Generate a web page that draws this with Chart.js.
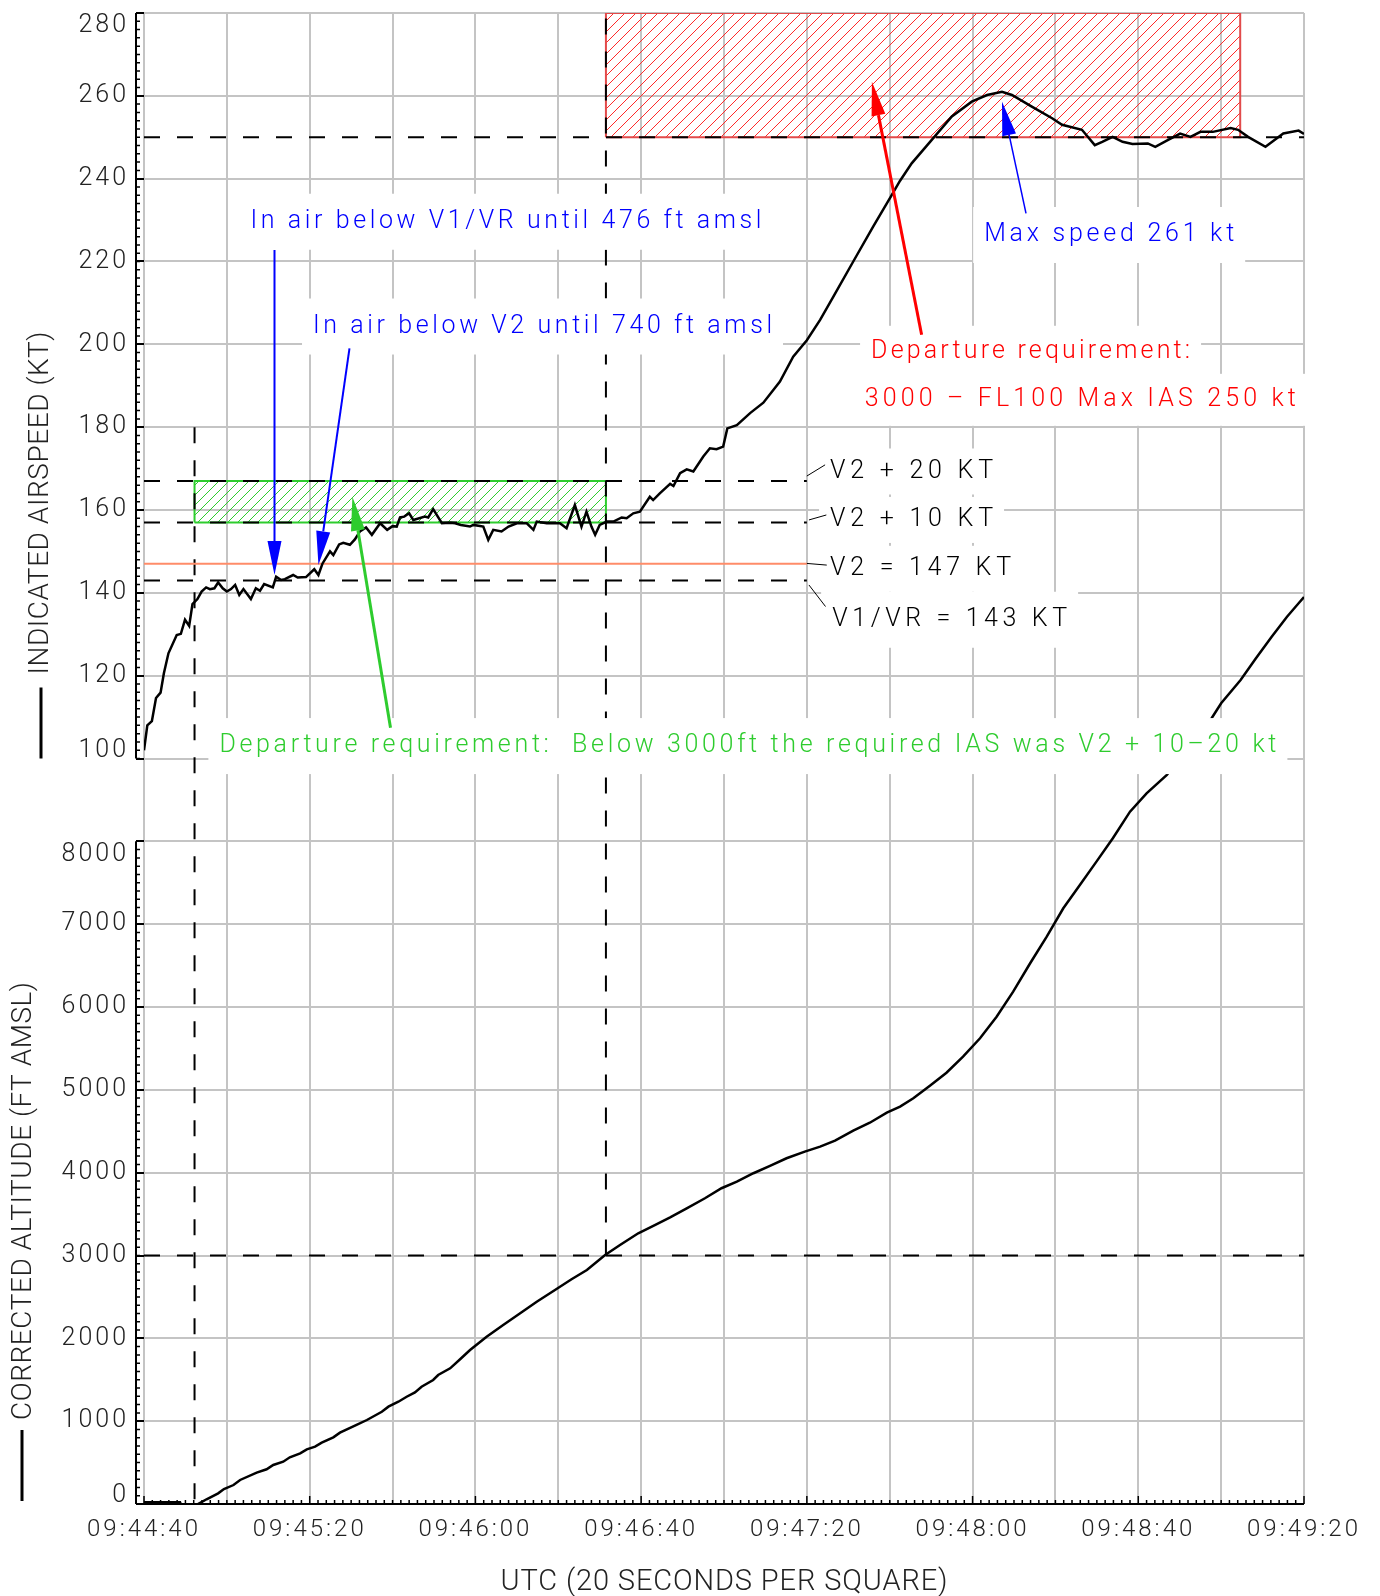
<!DOCTYPE html>
<html>
<head>
<meta charset="utf-8">
<script src="https://cdn.jsdelivr.net/npm/chart.js@4.4.1/dist/chart.umd.min.js"></script>
<style>
  html, body { margin: 0; padding: 0; background: #fff; }
</style>
</head>
<body>
<canvas id="grafica" width="1380" height="1596"></canvas>
<script>
// Datos (segundos desde 09:44:40 UTC)
const tiemposVelocidad = [0,0.8,1.9,2.9,4.0,4.8,5.9,7.9,8.9,9.9,10.9,11.7,12.9,13.9,15.0,15.9,17.0,17.9,19.0,20.0,
  21.0,22.0,23.0,24.0,25.8,27.0,28.0,29.0,31.1,31.9,33.1,34.0,36.0,37.1,39.1,41.1,42.1,43.1,44.9,45.7,
  47.1,48.1,49.7,50.9,52.1,53.6,55.0,57.0,58.7,60.0,61.0,61.8,62.8,64.0,65.0,67.8,68.6,69.8,71.9,73.9,
  75.1,76.5,78.7,79.5,81.9,83.1,84.3,86.3,88.0,90.0,92.4,94.0,94.8,97.2,100.4,102.0,104.0,105.6,106.8,108.0,
  108.9,110.0,111.7,113.3,115.3,116.5,118.1,119.7,122.1,122.9,124.5,127.0,127.8,129.4,131.0,132.6,135.0,136.6,138.2,139.8,
  140.8,143.1,146.3,149.5,153.5,156.7,160.0,163.2,166.4,171.2,176.0,180.3,182.5,185.3,190.1,195.0,199.8,203.5,207.1,209.5,
  214.3,219.2,221.6,226.4,229.5,231.3,233.8,236.2,238.6,242.3,244.1,247.1,250.1,252.6,255.0,258.0,262.3,264.1,266.5,270.7,
  275.0,278.7,280.0];
const velocidadKt = [102,108,109,114.6,115.9,120.6,125.4,129.8,130.1,133.5,132,137.3,138.5,140.3,141.3,140.9,141.1,142.5,141.1,140.3,
  140.9,141.9,139.5,140.9,138.5,141.1,140.5,142.1,141.3,143.9,143.1,143.3,144.3,143.7,143.8,145.7,144.3,147.1,150,149.1,
  151.7,152.1,151.6,152.9,154.8,155.8,154,156.8,155.2,156.1,156,158.2,158.4,159.2,157.6,158.4,158.2,160.2,156.8,156.9,
  156.8,156.4,156,156.4,156,152.8,155.2,154.8,156,156.8,156.8,155.2,157.2,156.8,156.8,155.6,161.2,156,159.6,156,
  154,156.4,157.2,157.2,158.2,158,159.2,159.6,163.2,162.4,164,166.3,165.8,168.9,169.8,169.3,172.9,174.9,174.7,175.3,
  179.7,180.5,183.4,185.9,191,197,201,205.9,211.5,220,228.4,235.7,239.5,243.7,249.3,255,258.6,260.2,261,260.2,
  257.4,254.6,253,251.8,248.1,248.9,250.1,248.9,248.4,248.5,247.7,249.3,250.9,250.1,251.3,251.3,252.2,251.8,250.1,247.7,
  250.9,251.6,250.8];

const tiemposAltitud = [0,8.7,9.6,12.2,13.1,15.1,17.9,19.3,21.6,23.2,27.2,29.6,31.2,33.6,35.2,37.7,39.3,41.3,42.9,45.7,
  47.3,51.3,53.8,57.4,59.0,61.4,63.4,65.4,67.0,69.8,71.0,73.9,76.3,78.7,82.7,86.7,90.8,94.8,99.2,103.2,
  106.9,111.3,114.9,119.3,123.3,127.0,131.0,135.4,139.4,143.1,147.1,151.1,155.1,159.5,163.2,166.8,171.2,175.2,179.3,182.5,
  185.7,189.7,193.7,197.7,201.8,205.8,209.8,213.9,217.9,221.9,225.9,229.9,233.9,238.0,242.0,246.9,257.7,260.0,264.7,268.4,
  272.2,275.9,278.7,280.0];
const altitudFt = [20,20,-90,-90,0,57,129,181,229,290,378,419,471,511,564,612,660,692,740,805,
  861,954,1014,1114,1175,1235,1295,1348,1416,1497,1557,1638,1747,1859,2020,2161,2302,2442,2584,2713,
  2825,3006,3127,3268,3368,3461,3570,3691,3812,3891,3993,4081,4174,4254,4314,4386,4507,4603,4724,4797,
  4898,5050,5207,5400,5622,5883,6185,6528,6849,7192,7473,7755,8040,8358,8580,8801,9486,9667,9948,10210,
  10471,10712,10874,10950];

// Velocidades y altitudes de referencia
const V1VR = 143;
const V2 = 147;
const V2mas10 = 157;
const V2mas20 = 167;
const iasMaxima = 250;
const altitudLimite = 3000;
const tDespegue = 12.2;
const t3000 = 111.5;
const tFL100 = 264.6;
const tFinLineasV = 160;

// Ejes: velocidad y altitud comparten la misma rejilla
const VEL_MIN = -80, VEL_MAX = 280, ALT_MAX = 18000;
const T_MAX = 280;
const horaInicio = 9 * 3600 + 44 * 60 + 40;

const FUENTE = "Roboto, 'DejaVu Sans', sans-serif";
const GRIS = '#c4c4c4';
const VERDE = '#2ecc2e';

function etiquetaY(v) {
  if (v >= 100) return String(v);
  if (v <= 80) return String((v - VEL_MIN) * 50);
  return '';
}

function etiquetaHora(s) {
  if (s % 40 !== 0) return '';
  const tot = horaInicio + s;
  const partes = [Math.floor(tot / 3600), Math.floor((tot % 3600) / 60), tot % 60];
  return partes.map(n => String(n).padStart(2, '0')).join(':');
}

const puntos = (xs, ys) => xs.map((x, i) => ({ x, y: ys[i] }));

function lineaRef(datos, color, dash, eje = 'y') {
  return {
    data: datos, borderColor: color, borderWidth: 2, borderDash: dash,
    pointRadius: 0, fill: false, yAxisID: eje, order: 3
  };
}

function rayado(color, paso) {
  const c = document.createElement('canvas');
  c.width = paso; c.height = paso;
  const g = c.getContext('2d');
  g.strokeStyle = color; g.lineWidth = 1;
  g.beginPath();
  for (const k of [-paso, 0, paso]) { g.moveTo(k, paso); g.lineTo(k + paso, 0); }
  g.stroke();
  return g.createPattern(c, 'repeat');
}

function caja(t0, t1, v0, v1, borde, patron) {
  return {
    data: [{ x: t0, y: v0 }, { x: t1, y: v0 }, { x: t1, y: v1 }, { x: t0, y: v1 }, { x: t0, y: v0 }],
    borderColor: borde, borderWidth: 2, backgroundColor: patron, fill: 'shape',
    pointRadius: 0, yAxisID: 'y', order: 5
  };
}

// Textos de la grafica (t, v: borde izquierdo y centro vertical)
const etiquetas = [
  { texto: 'In air below V1/VR until 476 ft amsl', t: 25.7, v: 229.6, ancho: 511, color: '#0000ff', medio: 28 },
  { texto: 'In air below V2 until 740 ft amsl', t: 40.8, v: 204.3, ancho: 459, color: '#0000ff', medio: 28 },
  { texto: 'Departure requirement:  Below 3000ft the required IAS was V2 + 10\u201320 kt', t: 18.2, v: 103, ancho: 1057, color: VERDE, medio: 28 },
  { texto: 'Departure requirement:', t: 175.5, v: 198.2, ancho: 319, color: '#ff0000', medio: 26 },
  { texto: '3000 \u2013 FL100 Max IAS 250 kt', t: 174, v: 186.6, ancho: 431, color: '#ff0000', medio: 26 },
  { texto: 'Max speed 261 kt', t: 202.8, v: 226.4, ancho: 250, color: '#0000ff', medio: 28 },
  { texto: 'V2 + 20 KT', t: 165.6, v: 169.3, ancho: 163, color: '#000', medio: 23 },
  { texto: 'V2 + 10 KT', t: 165.6, v: 157.6, ancho: 163, color: '#000', medio: 23 },
  { texto: 'V2 = 147 KT', t: 165.6, v: 145.8, ancho: 181, color: '#000', medio: 23 },
  { texto: 'V1/VR = 143 KT', t: 166.1, v: 133.5, ancho: 235, color: '#000', medio: 28 }
];

const flechas = [
  { desde: [31.5, 222.8], hasta: [31.5, 144.3], color: '#0000ff', grosor: 2 },
  { desde: [49.6, 199.0], hasta: [42.1, 146.7], color: '#0000ff', grosor: 2 },
  { desde: [59.5, 107.4], hasta: [50.3, 163.2], color: VERDE, grosor: 3 },
  { desde: [187.7, 202.3], hasta: [175.7, 263.4], color: '#ff0000', grosor: 3 },
  { desde: [212.9, 231.6], hasta: [207.1, 258.6], color: '#0000ff', grosor: 1.5 }
];

const guias = [
  [[160.0, 168.2], [164.4, 170.9]],
  [[160.5, 157.6], [164.7, 158.8]],
  [[160.0, 147.1], [164.8, 146.7]],
  [[160.5, 141.9], [164.5, 136.7]]
];

// desplazamiento vertical de los rotulos en los extremos de cada eje (estilo IDL)
const ajusteRotuloY = { 280: 13, 100: -8, 80: 13, [-80]: -8 };

function textoAjustado(ctx, texto, x, y, ancho) {
  ctx.letterSpacing = '0px';
  const w = ctx.measureText(texto).width;
  ctx.letterSpacing = ((ancho - w) / Math.max(texto.length - 1, 1)) + 'px';
  ctx.fillText(texto, x, y);
}

function flecha(ctx, x1, y1, x2, y2, color, grosor) {
  const ang = Math.atan2(y2 - y1, x2 - x1);
  const largo = 34, medio = 7;
  const bx = x2 - largo * Math.cos(ang), by = y2 - largo * Math.sin(ang);
  ctx.strokeStyle = color; ctx.fillStyle = color; ctx.lineWidth = grosor;
  ctx.beginPath(); ctx.moveTo(x1, y1); ctx.lineTo(bx, by); ctx.stroke();
  ctx.beginPath();
  ctx.moveTo(x2, y2);
  ctx.lineTo(bx + medio * Math.sin(ang), by - medio * Math.cos(ang));
  ctx.lineTo(bx - medio * Math.sin(ang), by + medio * Math.cos(ang));
  ctx.closePath(); ctx.fill();
}

// Ejes tipo IDL, rotulos con fondo blanco, flechas y titulos
const anotaciones = {
  id: 'anotaciones',
  beforeDraw(chart) { chart.ctx.letterSpacing = '3px'; },
  afterDatasetsDraw(chart) {
    const { ctx, chartArea: area, scales: { x, y } } = chart;
    const px = t => x.getPixelForValue(t);
    const py = v => y.getPixelForValue(v);
    ctx.save();

    // lineas de eje y marcas menores
    const xEje = area.left - 8;
    ctx.strokeStyle = '#000';
    ctx.lineWidth = 2;
    ctx.beginPath();
    ctx.moveTo(xEje, py(VEL_MAX)); ctx.lineTo(xEje, py(100));
    ctx.moveTo(xEje, py(80)); ctx.lineTo(xEje, py(VEL_MIN));
    ctx.moveTo(xEje, area.bottom); ctx.lineTo(area.right, area.bottom);
    ctx.stroke();
    ctx.lineWidth = 1.5;
    ctx.beginPath();
    for (let v = VEL_MIN; v <= VEL_MAX; v += 2) {
      if (v > 80 && v < 100) continue;
      ctx.moveTo(xEje, py(v)); ctx.lineTo(xEje + 4, py(v));
    }
    for (let t = 0; t <= T_MAX; t += 2) {
      const l = t % 40 === 0 ? 8 : 4;
      ctx.moveTo(px(t), area.bottom); ctx.lineTo(px(t), area.bottom - l);
    }
    ctx.stroke();

    // rotulos del eje Y (velocidad arriba, altitud abajo)
    ctx.font = `300 25px ${FUENTE}`;
    ctx.textBaseline = 'middle';
    ctx.textAlign = 'right';
    ctx.fillStyle = '#222';
    ctx.letterSpacing = '3px';
    y.ticks.forEach(tk => {
      const txt = etiquetaY(tk.value);
      if (!txt) return;
      ctx.fillText(txt, xEje - 7, py(tk.value) + (ajusteRotuloY[tk.value] || 0));
    });

    // cajas blancas y textos
    ctx.textAlign = 'left';
    etiquetas.forEach(e => {
      const x0 = px(e.t), y0 = py(e.v);
      ctx.fillStyle = '#fff';
      ctx.fillRect(x0 - 11, y0 - e.medio, e.ancho + 22, e.medio * 2);
    });
    etiquetas.forEach(e => {
      ctx.fillStyle = e.color;
      textoAjustado(ctx, e.texto, px(e.t), py(e.v), e.ancho);
    });

    // guias de las lineas V
    ctx.strokeStyle = '#000';
    ctx.lineWidth = 1;
    ctx.beginPath();
    guias.forEach(([a, b]) => { ctx.moveTo(px(a[0]), py(a[1])); ctx.lineTo(px(b[0]), py(b[1])); });
    ctx.stroke();

    flechas.forEach(f => flecha(ctx, px(f.desde[0]), py(f.desde[1]), px(f.hasta[0]), py(f.hasta[1]), f.color, f.grosor));

    // titulos de ejes
    ctx.fillStyle = '#222';
    ctx.strokeStyle = '#000';
    ctx.lineWidth = 3;
    const baseVel = py(100);
    ctx.beginPath(); ctx.moveTo(41, baseVel - 71); ctx.lineTo(41, baseVel); ctx.stroke();
    ctx.save();
    ctx.translate(41, baseVel - 84);
    ctx.rotate(-Math.PI / 2);
    ctx.font = `300 28px ${FUENTE}`;
    textoAjustado(ctx, 'INDICATED AIRSPEED (KT)', 0, 0, 343);
    ctx.restore();

    const baseAlt = py(VEL_MIN) - 3;
    ctx.beginPath(); ctx.moveTo(22, baseAlt - 71); ctx.lineTo(22, baseAlt); ctx.stroke();
    ctx.save();
    ctx.translate(24, baseAlt - 81);
    ctx.rotate(-Math.PI / 2);
    ctx.font = `300 28px ${FUENTE}`;
    textoAjustado(ctx, 'CORRECTED ALTITUDE (FT AMSL)', 0, 0, 438);
    ctx.restore();

    ctx.font = `300 29px ${FUENTE}`;
    const anchoX = 447;
    textoAjustado(ctx, 'UTC (20 SECONDS PER SQUARE)', (area.left + area.right) / 2 - anchoX / 2, 1583, anchoX);

    ctx.restore();
  },
  afterDraw(chart) { chart.ctx.letterSpacing = '0px'; }
};

const patronRojo = rayado('#ff2a2a', 11);
const patronVerde = rayado(VERDE, 10);

const datasets = [
  { data: puntos(tiemposVelocidad, velocidadKt), borderColor: '#000', borderWidth: 2.5, pointRadius: 0, yAxisID: 'y', order: 0 },
  { data: puntos(tiemposAltitud, altitudFt), borderColor: '#000', borderWidth: 2.5, pointRadius: 0, yAxisID: 'alt', order: 1 },
  caja(t3000, tFL100, iasMaxima, VEL_MAX, '#e24a4a', patronRojo),
  caja(tDespegue, t3000, V2mas10, V2mas20, VERDE, patronVerde),
  lineaRef([{ x: 0, y: iasMaxima }, { x: T_MAX, y: iasMaxima }], '#000', [16, 17]),
  lineaRef([{ x: 0, y: V2mas20 }, { x: tFinLineasV, y: V2mas20 }], '#000', [16, 17]),
  lineaRef([{ x: 0, y: V2mas10 }, { x: tFinLineasV, y: V2mas10 }], '#000', [16, 17]),
  lineaRef([{ x: 0, y: V2 }, { x: tFinLineasV, y: V2 }], '#ff8c69', []),
  lineaRef([{ x: 0, y: V1VR }, { x: tFinLineasV, y: V1VR }], '#000', [16, 17]),
  lineaRef([{ x: 0, y: altitudLimite }, { x: T_MAX, y: altitudLimite }], '#000', [16, 17], 'alt'),
  lineaRef([{ x: tDespegue, y: 180 }, { x: tDespegue, y: VEL_MIN }], '#000', [16, 17]),
  lineaRef([{ x: t3000, y: altitudLimite }, { x: t3000, y: ALT_MAX }], '#000', [16, 17], 'alt')
];

const fuenteEjes = { family: FUENTE, size: 24, weight: '300', lineHeight: 1 };

new Chart(document.getElementById('grafica').getContext('2d'), {
  type: 'line',
  data: { datasets },
  options: {
    responsive: false,
    animation: false,
    layout: { padding: { left: 0, right: 76, top: 13, bottom: 0 } },
    elements: { line: { tension: 0 }, point: { radius: 0 } },
    plugins: { legend: { display: false }, tooltip: { enabled: false } },
    scales: {
      x: {
        type: 'linear', min: 0, max: T_MAX,
        afterFit: s => { s.height = 92; s.paddingLeft = 0; s.paddingRight = 0; },
        border: { display: false },
        grid: { color: GRIS, lineWidth: 2, drawTicks: false },
        ticks: { stepSize: 20, autoSkip: false, maxRotation: 0, padding: 14, color: '#222', font: fuenteEjes, callback: etiquetaHora }
      },
      y: {
        type: 'linear', min: VEL_MIN, max: VEL_MAX,
        afterFit: s => { s.width = 144; s.paddingTop = 0; s.paddingBottom = 0; },
        border: { display: false },
        grid: { color: GRIS, lineWidth: 2, tickLength: 8, tickColor: '#000', tickWidth: 2 },
        ticks: { stepSize: 20, autoSkip: false, display: false }
      },
      alt: { type: 'linear', display: false, min: 0, max: ALT_MAX }
    }
  },
  plugins: [anotaciones]
});
</script>
</body>
</html>
